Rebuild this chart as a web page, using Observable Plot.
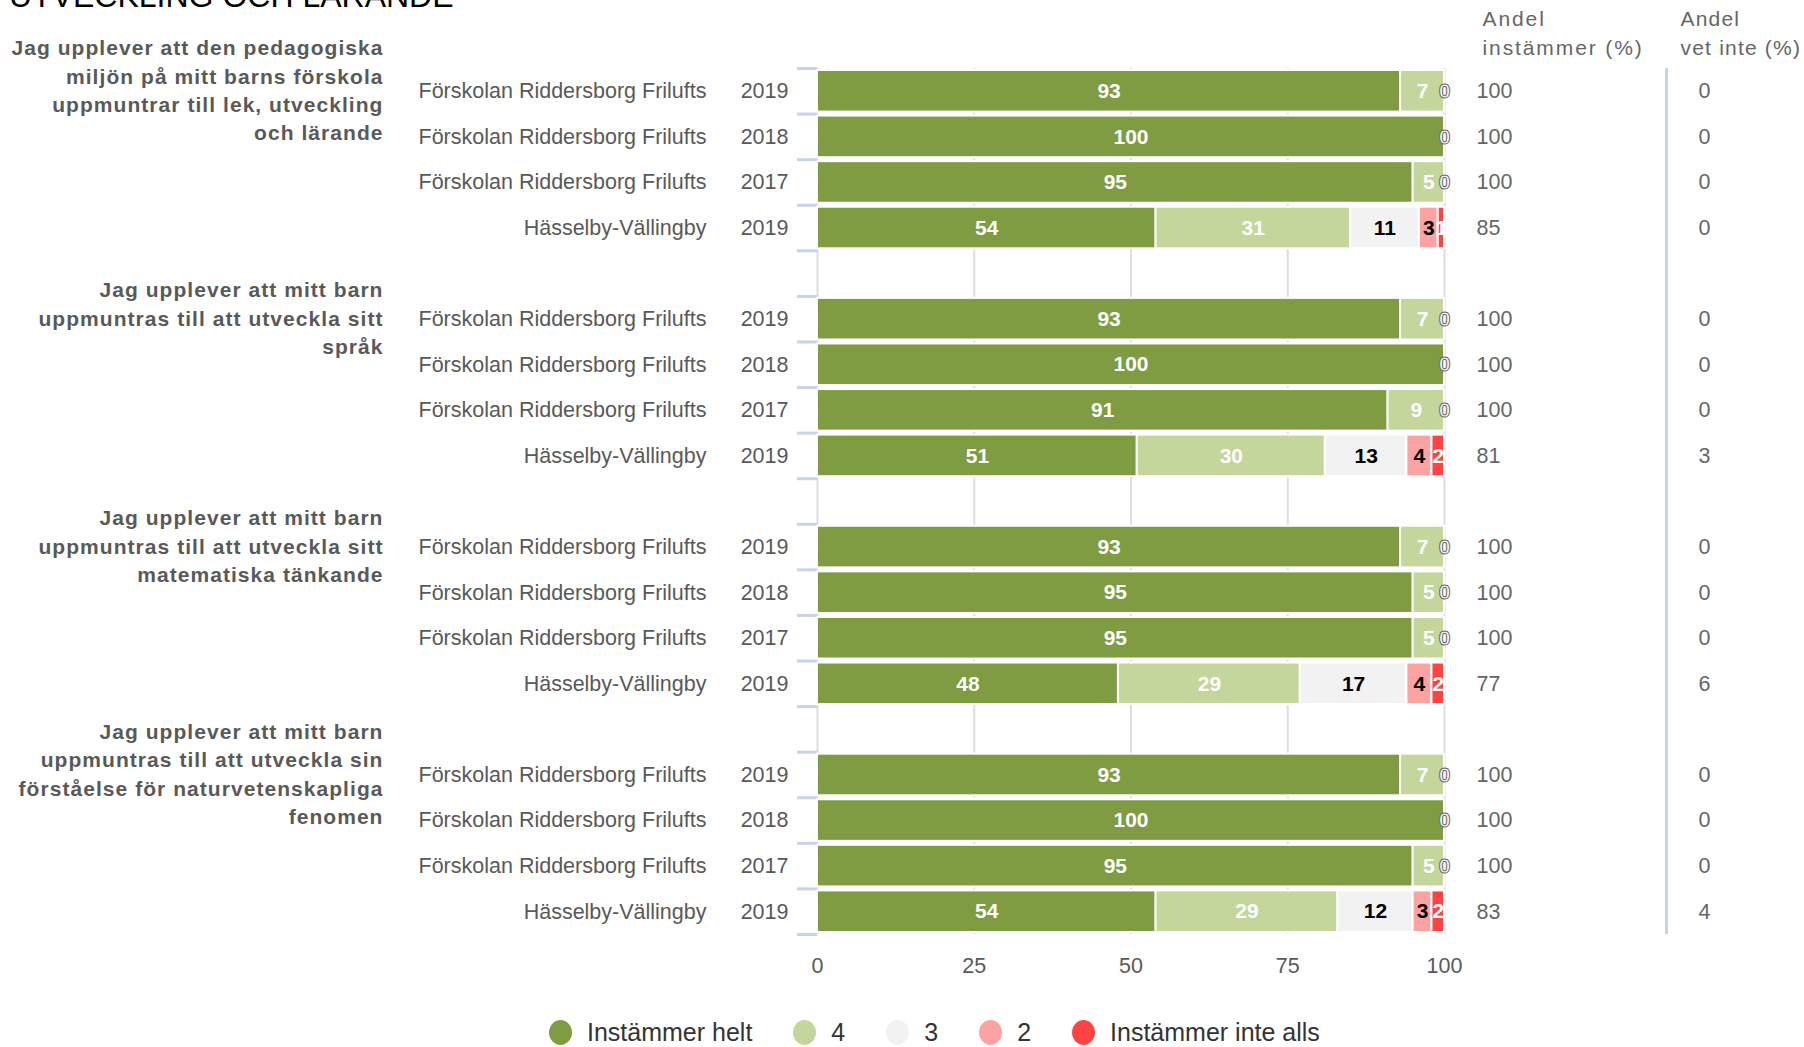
<!DOCTYPE html>
<html>
<head>
<meta charset="utf-8">
<script src="https://cdn.jsdelivr.net/npm/d3@7"></script>
<script src="https://cdn.jsdelivr.net/npm/@observablehq/plot@0.6"></script>
<style>
  html, body { margin: 0; padding: 0; background: #fff; }
  body { font-family: "Liberation Sans", Arial, sans-serif; }
  #wrap { position: relative; width: 1804px; height: 1047px; overflow: hidden; }
  #title { position: absolute; left: 9px; top: -20px; font-size: 32px; line-height: 32px; color: #000; white-space: nowrap; }
  #chart { position: absolute; left: 0; top: 0; }
  #legend { position: absolute; left: 0; top: 1010px; width: 1804px; height: 44px; display: flex; align-items: center; padding-left: 549px; box-sizing: border-box; }
  .item { display: flex; align-items: center; margin-right: 41px; font-size: 25px; color: #333; }
  .dot { width: 23px; height: 25px; border-radius: 50%; margin-right: 15px; }
  .q text { letter-spacing: 1.05px; }
  .hdr1 text { letter-spacing: 1.9px; }
  .hdr2 text { letter-spacing: 1.2px; }
</style>
</head>
<body>
<div id="wrap">
  <div id="title">UTVECKLING OCH LÄRANDE</div>
  <div id="chart"></div>
  <div id="legend"></div>
</div>
<script>
const categories = ["Instämmer helt", "4", "3", "2", "Instämmer inte alls"];
const colors = ["#7f9c42", "#c4d69b", "#f2f2f2", "#fba3a3", "#fe4343"];
const labelColors = ["#ffffff", "#ffffff", "#000000", "#000000", "#ffffff"];

const questions = [
  "Jag upplever att den pedagogiska\nmiljön på mitt barns förskola\nuppmuntrar till lek, utveckling\noch lärande",
  "Jag upplever att mitt barn\nuppmuntras till att utveckla sitt\nspråk",
  "Jag upplever att mitt barn\nuppmuntras till att utveckla sitt\nmatematiska tänkande",
  "Jag upplever att mitt barn\nuppmuntras till att utveckla sin\nförståelse för naturvetenskapliga\nfenomen"
];
const units = ["Förskolan Riddersborg Frilufts", "Förskolan Riddersborg Frilufts", "Förskolan Riddersborg Frilufts", "Hässelby-Vällingby"];
const years = ["2019", "2018", "2017", "2019"];

// per row (4 groups x 4 rows)
const helt     = [93, 100, 95, 54,  93, 100, 91, 51,  93, 95, 95, 48,  93, 100, 95, 54];
const fyra     = [ 7,   0,  5, 31,   7,   0,  9, 30,   7,  5,  5, 29,   7,   0,  5, 29];
const tre      = [ 0,   0,  0, 11,   0,   0,  0, 13,   0,  0,  0, 17,   0,   0,  0, 12];
const tva      = [ 0,   0,  0,  3,   0,   0,  0,  4,   0,  0,  0,  4,   0,   0,  0,  3];
const inteAlls = [ 0,   0,  0,  1,   0,   0,  0,  2,   0,  0,  0,  2,   0,   0,  0,  2];
const andelInstammer = [100, 100, 100, 85,  100, 100, 100, 81,  100, 100, 100, 77,  100, 100, 100, 83];
const andelVetInte   = [  0,   0,   0,  0,    0,   0,   0,  3,    0,   0,   0,  6,    0,   0,   0,  4];
const xTicks = [0, 25, 50, 75, 100];
const headerInstammer = "Andel\ninstämmer (%)";
const headerVetInte = "Andel\nvet inte (%)";

// build tables
const series = [helt, fyra, tre, tva, inteAlls];
const rows = [];
const segments = [];
for (let q = 0; q < questions.length; q++) {
  for (let r = 0; r < units.length; r++) {
    const i = q * units.length + r;
    const pos = q * (units.length + 1) + r;
    rows.push({pos, unit: units[r], year: years[r], ins: andelInstammer[i], vet: andelVetInte[i]});
    let acc = 0;
    series.forEach((s, k) => {
      const v = s[i];
      segments.push({pos, cat: categories[k], k, value: v, x1: acc, x2: acc + v, mid: acc + v / 2});
      acc += v;
    });
  }
}
const groups = questions.map((t, q) => ({text: t, pos: q * (units.length + 1)}));
const nRows = questions.length * (units.length + 1) - 1;
const boundaries = d3.range(nRows + 1).map(i => i - 0.5);

const fs = 21.5;
const chart = Plot.plot({
  width: 1804,
  height: 1008,
  marginLeft: 817,
  marginRight: 360,
  marginTop: 68,
  marginBottom: 74,
  style: {fontFamily: "'Liberation Sans', Arial, sans-serif", background: "transparent"},
  x: {domain: [0, 100], label: null},
  y: {domain: [-0.5, nRows - 0.5], reverse: true, label: null},
  color: {domain: categories, range: colors},
  marks: [
    Plot.ruleX(xTicks, {stroke: "#dedede", strokeWidth: 2}),
    Plot.axisY({ticks: boundaries, tickSize: 20, tickFormat: () => "", label: null, stroke: "#c9d3e7", strokeWidth: 3}),
    Plot.axisX({ticks: xTicks, tickSize: 0, tickPadding: 23, label: null, fontSize: fs, fill: "#595959"}),
    Plot.rectX(segments.filter(d => d.value > 0), {
      x1: "x1", x2: "x2", y1: d => d.pos - 0.5, y2: d => d.pos + 0.5,
      insetTop: 2, insetBottom: 2, fill: "cat", stroke: "#fff", strokeWidth: 2
    }),
    Plot.text(segments.filter(d => d.value > 0), {
      x: "mid", y: "pos", text: d => String(d.value), fill: d => labelColors[d.k],
      fontWeight: "bold", fontSize: 21
    }),
    Plot.text(segments.filter(d => d.value === 0 && d.k === categories.length - 1), {
      x: "mid", y: "pos", text: d => String(d.value), fill: "#fff", stroke: "#666", strokeWidth: 1,
      paintOrder: "fill", fontWeight: "bold", fontSize: 21
    }),
    Plot.text(rows, {x: () => 0, dx: -111, y: "pos", text: "unit", textAnchor: "end", fill: "#595959", fontSize: fs}),
    Plot.text(rows, {x: () => 0, dx: -29, y: "pos", text: "year", textAnchor: "end", fill: "#595959", fontSize: fs}),
    Plot.text(groups, {
      x: () => 0, dx: -434, y: "pos", dy: -2.5, text: "text", textAnchor: "end", lineAnchor: "middle",
      lineHeight: 1.35, fontWeight: "bold", fontSize: 21, fill: "#595959", className: "q"
    }),
    Plot.text(rows, {x: () => 100, dx: 32, y: "pos", text: d => String(d.ins), textAnchor: "start", fill: "#666", fontSize: fs}),
    Plot.text(rows, {x: () => 100, dx: 254, y: "pos", text: d => String(d.vet), textAnchor: "start", fill: "#666", fontSize: fs}),
    Plot.ruleX([100], {dx: 222, stroke: "#c9d3e7", strokeWidth: 3}),
    Plot.text([headerInstammer], {x: () => 100, dx: 38, y: () => -0.5, dy: -37, text: d => d, textAnchor: "start",
      lineAnchor: "middle", lineHeight: 1.38, fill: "#666", fontSize: 21, className: "hdr1"}),
    Plot.text([headerVetInte], {x: () => 100, dx: 236, y: () => -0.5, dy: -37, text: d => d, textAnchor: "start",
      lineAnchor: "middle", lineHeight: 1.38, fill: "#666", fontSize: 21, className: "hdr2"})
  ]
});
document.getElementById("chart").appendChild(chart);

const legend = document.getElementById("legend");
categories.forEach((c, k) => {
  const item = document.createElement("div");
  item.className = "item";
  const dot = document.createElement("div");
  dot.className = "dot";
  dot.style.background = colors[k];
  const label = document.createElement("span");
  label.textContent = c;
  item.appendChild(dot);
  item.appendChild(label);
  legend.appendChild(item);
});
</script>
</body>
</html>
